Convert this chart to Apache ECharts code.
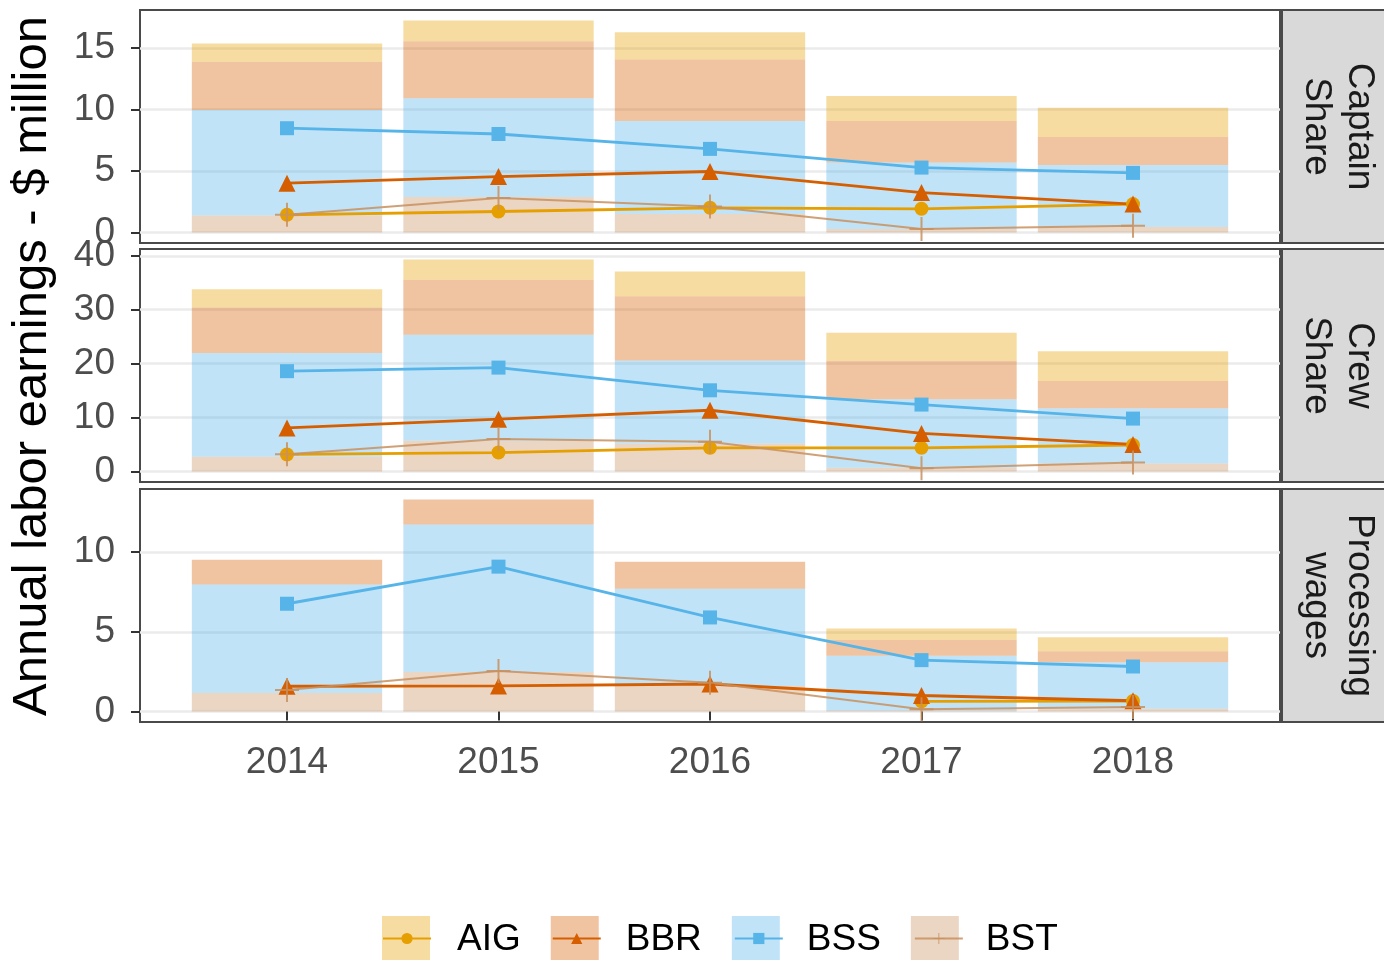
<!DOCTYPE html>
<html>
<head>
<meta charset="utf-8">
<style>
  html, body { margin: 0; padding: 0; background: #fff; }
  #chart { width: 1384px; height: 960px; }
</style>
<script src="https://cdn.jsdelivr.net/npm/echarts@6/dist/echarts.min.js"></script>
</head>
<body>
<div id="chart"></div>
<script>
// ---- data ----
const years = [2014, 2015, 2016, 2017, 2018];
const groups = ['AIG', 'BBR', 'BSS', 'BST'];
const panels = ['Captain\nShare', 'Crew\nShare', 'Processing\nwages'];
const yTicks = [[0, 5, 10, 15], [0, 10, 20, 30, 40], [0, 5, 10]];

// stacked bars (one array per group, per panel)
const capBarAIG = [1.49, 1.67, 2.22, 2.03, 2.38];
const capBarBBR = [3.92, 4.65, 5.0, 3.38, 2.27];
const capBarBSS = [8.57, 8.03, 7.57, 5.41, 5.05];
const capBarBST = [1.38, 2.87, 1.49, 0.27, 0.44];

const crewBarAIG = [3.4, 3.74, 4.6, 5.19, 5.5];
const crewBarBBR = [8.44, 10.19, 11.9, 7.15, 5.06];
const crewBarBSS = [19.26, 19.7, 15.41, 12.73, 10.24];
const crewBarBST = [2.7, 5.67, 5.19, 0.67, 1.48];

const procBarAIG = [0, 0, 0, 0.7, 0.88];
const procBarBBR = [1.56, 1.56, 1.7, 1.0, 0.69];
const procBarBSS = [6.81, 9.26, 6.1, 3.45, 2.92];
const procBarBST = [1.16, 2.48, 1.6, 0.05, 0.17];

// lines with markers
const capAIG = [1.43, 1.7, 2.0, 1.92, 2.3];
const capBBR = [4.0, 4.54, 4.95, 3.24, 2.3];
const capBSS = [8.47, 8.0, 6.79, 5.27, 4.84];
const capBST = [1.43, 2.79, 2.1, 0.27, 0.54];

const crewAIG = [3.15, 3.5, 4.37, 4.37, 4.9];
const crewBBR = [8.07, 9.69, 11.35, 7.04, 5.0];
const crewBSS = [18.6, 19.26, 15.05, 12.4, 9.8];
const crewBST = [3.2, 6.0, 5.5, 0.6, 1.67];

const procAIG = [null, null, null, 0.63, 0.65];
const procBBR = [1.58, 1.6, 1.72, 1.0, 0.67];
const procBSS = [6.76, 9.09, 5.9, 3.22, 2.82];
const procBST = [1.35, 2.53, 1.8, 0.14, 0.27];

const bars = [
  { AIG: capBarAIG, BBR: capBarBBR, BSS: capBarBSS, BST: capBarBST },
  { AIG: crewBarAIG, BBR: crewBarBBR, BSS: crewBarBSS, BST: crewBarBST },
  { AIG: procBarAIG, BBR: procBarBBR, BSS: procBarBSS, BST: procBarBST }
];
const lines = [
  { AIG: capAIG, BBR: capBBR, BSS: capBSS, BST: capBST },
  { AIG: crewAIG, BBR: crewBBR, BSS: crewBSS, BST: crewBST },
  { AIG: procAIG, BBR: procBBR, BSS: procBSS, BST: procBST }
];

// ---- styling ----
const font = "'Liberation Sans', Arial, Helvetica, sans-serif";
const colors = { AIG: '#E69F00', BBR: '#D55E00', BSS: '#56B4E9', BST: '#C8915F' };
const plus = 'path://M11,0h2v11h11v2h-11v11h-2v-11h-11v-2h11z';
const symbols = { AIG: 'circle', BBR: 'triangle', BSS: 'rect', BST: plus };
const symbolSizes = { AIG: 14, BBR: 17, BSS: 14, BST: 24 };
const stackOrder = ['BST', 'BSS', 'BBR', 'AIG']; // bottom to top

function fade(hex, a) {
  const n = parseInt(hex.slice(1), 16);
  return 'rgba(' + (n >> 16) + ',' + ((n >> 8) & 255) + ',' + (n & 255) + ',' + a + ')';
}

const gridLeft = 140, gridWidth = 1140, gridHeight = 233;
const gridTops = [10, 249, 489];

// continuous year axis, bars 0.9 wide, 5% expansion like ggplot
const barUnits = 0.9;
const span = years[years.length - 1] - years[0] + barUnits;
const xMin = years[0] - barUnits / 2 - 0.05 * span;
const xMax = years[years.length - 1] + barUnits / 2 + 0.05 * span;

const yMax = [], yMin = [];
bars.forEach(function (b) {
  let top = 0;
  years.forEach(function (y, k) {
    let s = 0;
    groups.forEach(function (g) { s += b[g][k] || 0; });
    top = Math.max(top, s);
  });
  yMin.push(-0.05 * top);
  yMax.push(1.05 * top);
});

function renderBar(params, api) {
  const x = api.value(0), lo = api.value(1), hi = api.value(2);
  if (hi <= lo) return null;
  const p0 = api.coord([x - barUnits / 2, lo]);
  const p1 = api.coord([x + barUnits / 2, hi]);
  return {
    type: 'rect',
    shape: { x: p0[0], y: p1[1], width: p1[0] - p0[0], height: p0[1] - p1[1] },
    style: { fill: api.visual('color') }
  };
}

const chart = echarts.init(document.getElementById('chart'));

const grid = [], xAxis = [], yAxis = [], series = [], graphic = [];

panels.forEach(function (p, i) {
  grid.push({
    left: gridLeft, top: gridTops[i], width: gridWidth, height: gridHeight,
    show: true, borderColor: '#4a4a4a', borderWidth: 2, backgroundColor: '#fff'
  });
  const last = i === panels.length - 1;
  xAxis.push({
    type: 'value', gridIndex: i, min: xMin, max: xMax,
    axisLine: { show: false },
    axisTick: { show: last, length: 9, customValues: years, lineStyle: { color: '#333', width: 2 } },
    axisLabel: {
      show: last, customValues: years, fontSize: 37, color: '#4d4d4d', margin: 22,
      fontFamily: font, formatter: function (v) { return String(v); }
    },
    splitLine: { show: false }
  });
  yAxis.push({
    type: 'value', gridIndex: i, min: yMin[i], max: yMax[i],
    axisLine: { show: false },
    axisTick: { show: true, length: 9, customValues: yTicks[i], lineStyle: { color: '#333', width: 2 } },
    axisLabel: { customValues: yTicks[i], fontSize: 37, color: '#4d4d4d', margin: 25, fontFamily: font },
    splitLine: { show: true, lineStyle: { color: '#ebebeb', width: 2.5 } }
  });

  // stacked bars: each segment runs from the running total to the next
  const base = years.map(function () { return 0; });
  stackOrder.forEach(function (g) {
    const data = years.map(function (y, k) {
      const v = bars[i][g][k] || 0;
      const seg = [y, base[k], base[k] + v];
      base[k] += v;
      return seg;
    });
    series.push({
      name: g, type: 'custom', xAxisIndex: i, yAxisIndex: i, z: 2,
      renderItem: renderBar,
      encode: { x: 0, y: [1, 2] },
      itemStyle: { color: fade(colors[g], 0.37) },
      data: data
    });
  });

  groups.forEach(function (g) {
    const isBST = g === 'BST';
    series.push({
      name: g + ' ', type: 'line', xAxisIndex: i, yAxisIndex: i, z: 3,
      symbol: symbols[g], symbolSize: symbolSizes[g],
      itemStyle: { color: colors[g], opacity: isBST ? 0.85 : 1 },
      lineStyle: { color: colors[g], width: isBST ? 2 : 2.8, opacity: isBST ? 0.85 : 1 },
      data: years.map(function (y, k) { return [y, lines[i][g][k]]; })
    });
  });

  // facet strip
  graphic.push({
    type: 'rect', shape: { x: 1282, y: gridTops[i], width: 112, height: gridHeight },
    style: { fill: '#d9d9d9', stroke: '#4a4a4a', lineWidth: 2 }
  });
  graphic.push({
    type: 'text', x: 1338, y: gridTops[i] + gridHeight / 2, rotation: -Math.PI / 2,
    style: {
      text: p, fontSize: 37, fontFamily: font, fill: '#1a1a1a',
      align: 'center', verticalAlign: 'middle', lineHeight: 43
    }
  });
});

graphic.push({
  type: 'text', x: 32, y: 366, rotation: Math.PI / 2,
  style: {
    text: 'Annual labor earnings - $ million', fontSize: 49, fontFamily: font,
    fill: '#000', align: 'center', verticalAlign: 'middle'
  }
});

const legendBase = {
  left: 382, orient: 'horizontal', itemWidth: 48, itemGap: 30, padding: 0, selectedMode: false,
  textStyle: { fontSize: 37, fontFamily: font, padding: [0, 0, 0, 22] }
};

const option = {
  animation: false,
  backgroundColor: '#fff',
  textStyle: { fontFamily: font },
  grid: grid,
  xAxis: xAxis,
  yAxis: yAxis,
  legend: [
    Object.assign({}, legendBase, {
      top: 916, itemHeight: 48, icon: 'rect', data: groups,
      textStyle: Object.assign({}, legendBase.textStyle, { color: '#000' })
    }),
    Object.assign({}, legendBase, {
      top: 920, itemHeight: 14, data: groups.map(function (g) { return g + ' '; }),
      formatter: function (n) { return n.trim(); },
      textStyle: Object.assign({}, legendBase.textStyle, { color: 'rgba(0,0,0,0)' })
    })
  ],
  series: series,
  graphic: graphic
};

chart.setOption(option);
</script>
</body>
</html>
